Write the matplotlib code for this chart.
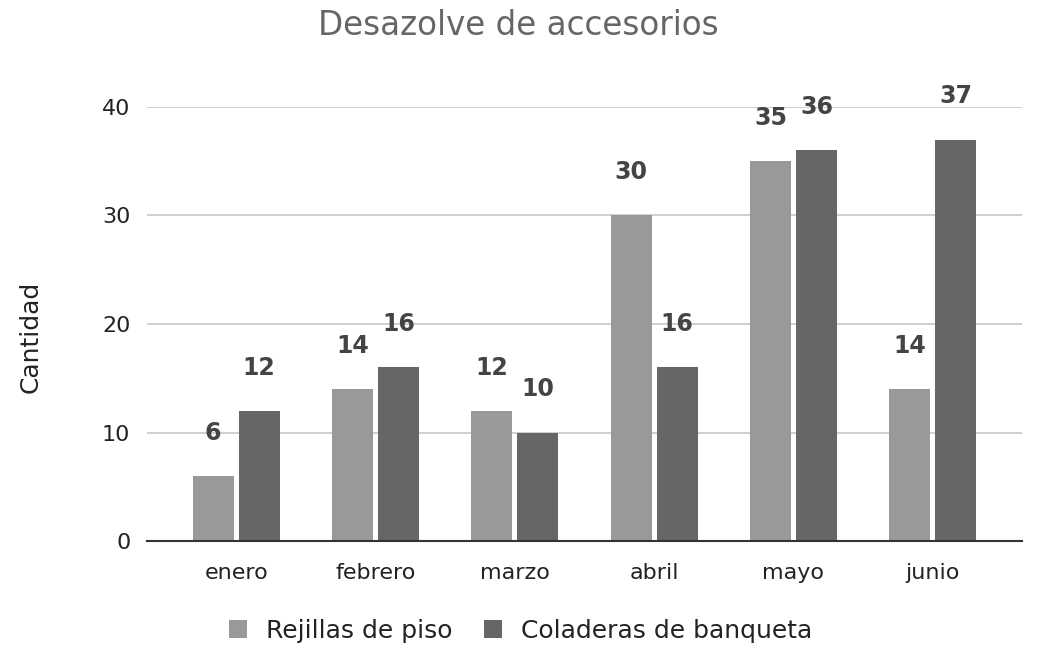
import matplotlib
matplotlib.use("Agg")
import matplotlib.pyplot as plt
import numpy as np

categories = ["enero", "febrero", "marzo", "abril", "mayo", "junio"]
rejillas = [6, 14, 12, 30, 35, 14]
coladeras = [12, 16, 10, 16, 36, 37]
series_names = ["Rejillas de piso", "Coladeras de banqueta"]
colors = ["#999999", "#666666"]

plt.rcParams['font.family'] = ['DejaVu Sans']

fig = plt.figure(figsize=(10.37, 6.46), dpi=100)
ax = fig.add_axes([0.1418, 0.1625, 0.8437, 0.6719])

x = np.arange(len(categories))
w = 0.294
off = 0.165
b1 = ax.bar(x - off, rejillas, w, color=colors[0], label=series_names[0], zorder=3)
b2 = ax.bar(x + off, coladeras, w, color=colors[1], label=series_names[1], zorder=3)

for bars, vals in [(b1, rejillas), (b2, coladeras)]:
    for r, v in zip(bars, vals):
        ax.annotate(str(v), (r.get_x() + r.get_width() / 2, v), xytext=(0, 31),
                    textcoords="offset points", ha="center", va="center",
                    fontsize=17, fontweight="bold", color="#444444", annotation_clip=False)

ax.set_xlim(-0.64, 5.64)
ax.set_ylim(0, 40)
ax.set_yticks([0, 10, 20, 30, 40])
ax.yaxis.grid(True, color="#cccccc", linewidth=1.3, zorder=0)
ax.set_axisbelow(True)
for s in ["top", "right", "left"]:
    ax.spines[s].set_visible(False)
ax.spines["bottom"].set_color("#333333")
ax.spines["bottom"].set_linewidth(1.5)
ax.spines["bottom"].set_zorder(4)
ax.tick_params(axis="both", length=0, labelsize=16, colors="#222222")
ax.tick_params(axis="x", pad=16)
ax.tick_params(axis="y", pad=12)
ax.set_xticks(x)
ax.set_xticklabels(categories)
ax.set_ylabel("Cantidad", fontsize=18, color="#222222")
ax.yaxis.set_label_coords(-0.119, 0.47)

fig.text(0.5, 0.961, "Desazolve de accesorios", ha="center", va="center",
         fontsize=23.5, color="#666666")

leg = fig.legend(handles=[b1, b2], labels=series_names, loc="center",
                 bbox_to_anchor=(0.502, 0.023), ncol=2, frameon=False, fontsize=18,
                 handlelength=0.72, handleheight=0.72, handletextpad=0.76, columnspacing=1.28,
                 labelcolor="#222222", borderpad=0)

fig.savefig("out.png", dpi=100, facecolor="white")
